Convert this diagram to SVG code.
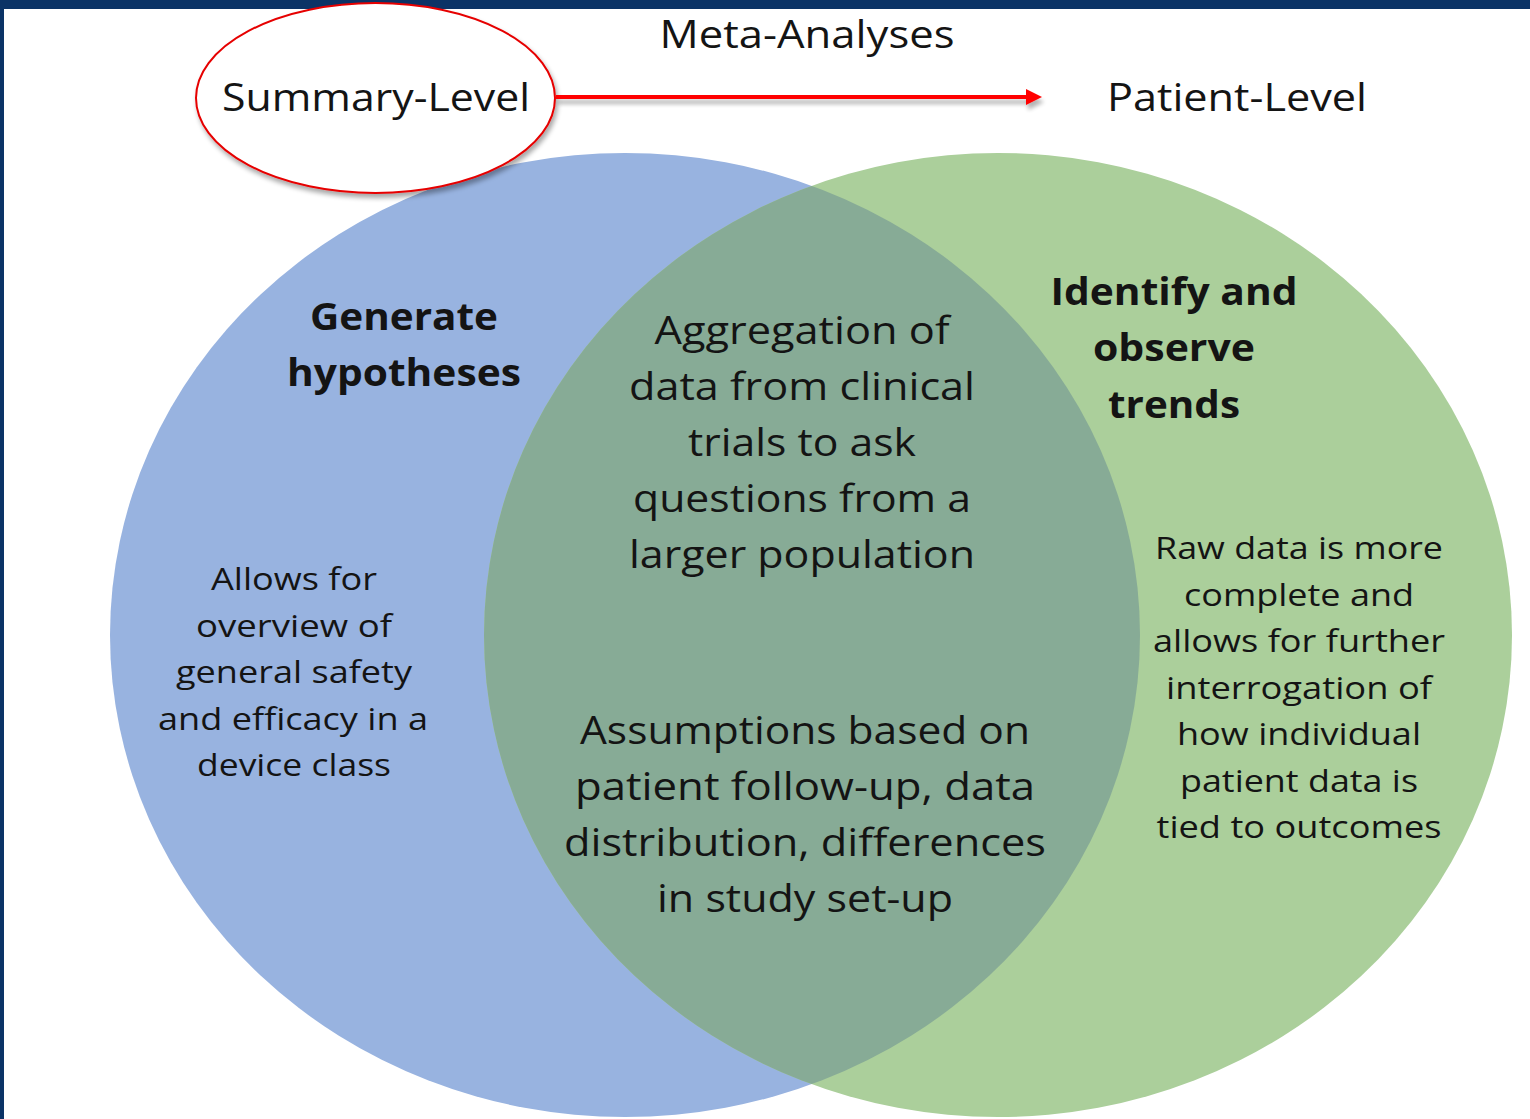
<svg xmlns="http://www.w3.org/2000/svg" width="1530" height="1119" viewBox="0 0 1530 1119">
  <defs>
    <style>
      .t { font-family: "Open Sans", Lato, sans-serif; fill: #141414; text-anchor: middle; }
      .b { font-weight: bold; }
      .lg { font-size: 38px; }
      .md { font-size: 31px; }
      .hd { font-size: 37px; }
    </style>
    <clipPath id="greenClip">
      <ellipse cx="998" cy="635" rx="514" ry="482"/>
    </clipPath>
    <filter id="shadow" x="-10%" y="-10%" width="130%" height="140%">
      <feGaussianBlur in="SourceAlpha" stdDeviation="2.5"/>
      <feOffset dx="2" dy="4" result="off"/>
      <feComponentTransfer><feFuncA type="linear" slope="0.35"/></feComponentTransfer>
      <feMerge><feMergeNode/><feMergeNode in="SourceGraphic"/></feMerge>
    </filter>
    <filter id="arrowShadow" filterUnits="userSpaceOnUse" x="540" y="75" width="520" height="45">
      <feGaussianBlur in="SourceAlpha" stdDeviation="2"/>
      <feOffset dx="2" dy="5" result="off"/>
      <feComponentTransfer><feFuncA type="linear" slope="0.3"/></feComponentTransfer>
      <feMerge><feMergeNode/><feMergeNode in="SourceGraphic"/></feMerge>
    </filter>
  </defs>

  <!-- page background and frame -->
  <rect x="0" y="0" width="1530" height="1119" fill="#ffffff"/>
  <rect x="0" y="0" width="1530" height="9" fill="#0b3366"/>
  <rect x="0" y="0" width="4" height="1119" fill="#0b3366"/>

  <!-- Venn sets -->
  <g id="set-summary">
    <ellipse cx="625" cy="635" rx="515" ry="482" fill="#98b3e0"/>
  </g>
  <g id="set-patient">
    <ellipse cx="998" cy="635" rx="514" ry="482" fill="#abcf9b"/>
  </g>
  <g id="set-overlap">
    <ellipse cx="625" cy="635" rx="515" ry="482" fill="#87ab96" clip-path="url(#greenClip)"/>
  </g>

  <!-- header labels -->
  <g id="meta-analyses">
    <text class="t lg" x="807" y="48" textLength="295" lengthAdjust="spacingAndGlyphs">Meta-Analyses</text>
  </g>
  <g id="summary-level">
    <ellipse cx="375.5" cy="98" rx="179.5" ry="95" fill="#ffffff" stroke="#e60000" stroke-width="2" filter="url(#shadow)"/>
    <text class="t lg" x="376" y="111" textLength="308" lengthAdjust="spacingAndGlyphs">Summary-Level</text>
  </g>
  <g id="patient-level">
    <text class="t lg" x="1237" y="111" textLength="260" lengthAdjust="spacingAndGlyphs">Patient-Level</text>
  </g>

  <!-- connectors -->
  <g id="connectors" filter="url(#arrowShadow)">
    <line x1="556" y1="97" x2="1028" y2="97" stroke="#ff0000" stroke-width="4"/>
    <path d="M1026,89 L1042,97 L1026,105 Z" fill="#ff0000"/>
  </g>

  <!-- set captions -->
  <g id="generate-hypotheses">
    <text class="t b hd" x="404" y="330" textLength="188" lengthAdjust="spacingAndGlyphs">Generate</text>
    <text class="t b hd" x="404" y="386" textLength="234" lengthAdjust="spacingAndGlyphs">hypotheses</text>
  </g>
  <g id="identify-trends">
    <text class="t b hd" x="1174" y="305" textLength="247" lengthAdjust="spacingAndGlyphs">Identify and</text>
    <text class="t b hd" x="1174" y="361" textLength="162" lengthAdjust="spacingAndGlyphs">observe</text>
    <text class="t b hd" x="1174" y="418" textLength="132" lengthAdjust="spacingAndGlyphs">trends</text>
  </g>

  <g id="summary-detail">
    <text class="t md" x="294" y="590" textLength="166" lengthAdjust="spacingAndGlyphs">Allows for</text>
    <text class="t md" x="294" y="637" textLength="196" lengthAdjust="spacingAndGlyphs">overview of</text>
    <text class="t md" x="294" y="683" textLength="236" lengthAdjust="spacingAndGlyphs">general safety</text>
    <text class="t md" x="293" y="730" textLength="270" lengthAdjust="spacingAndGlyphs">and efficacy in a</text>
    <text class="t md" x="294" y="776" textLength="194" lengthAdjust="spacingAndGlyphs">device class</text>
  </g>

  <g id="patient-detail">
    <text class="t md" x="1299" y="559" textLength="288" lengthAdjust="spacingAndGlyphs">Raw data is more</text>
    <text class="t md" x="1299" y="606" textLength="230" lengthAdjust="spacingAndGlyphs">complete and</text>
    <text class="t md" x="1299" y="652" textLength="292" lengthAdjust="spacingAndGlyphs">allows for further</text>
    <text class="t md" x="1299" y="699" textLength="266" lengthAdjust="spacingAndGlyphs">interrogation of</text>
    <text class="t md" x="1299" y="745" textLength="244" lengthAdjust="spacingAndGlyphs">how individual</text>
    <text class="t md" x="1299" y="792" textLength="238" lengthAdjust="spacingAndGlyphs">patient data is</text>
    <text class="t md" x="1299" y="838" textLength="285" lengthAdjust="spacingAndGlyphs">tied to outcomes</text>
  </g>

  <g id="overlap-aggregation">
    <text class="t lg" x="802" y="344" textLength="295" lengthAdjust="spacingAndGlyphs">Aggregation of</text>
    <text class="t lg" x="802" y="400" textLength="346" lengthAdjust="spacingAndGlyphs">data from clinical</text>
    <text class="t lg" x="802" y="456" textLength="228" lengthAdjust="spacingAndGlyphs">trials to ask</text>
    <text class="t lg" x="802" y="512" textLength="338" lengthAdjust="spacingAndGlyphs">questions from a</text>
    <text class="t lg" x="802" y="568" textLength="346" lengthAdjust="spacingAndGlyphs">larger population</text>
  </g>

  <g id="overlap-assumptions">
    <text class="t lg" x="805" y="744" textLength="450" lengthAdjust="spacingAndGlyphs">Assumptions based on</text>
    <text class="t lg" x="805" y="800" textLength="460" lengthAdjust="spacingAndGlyphs">patient follow-up, data</text>
    <text class="t lg" x="805" y="856" textLength="482" lengthAdjust="spacingAndGlyphs">distribution, differences</text>
    <text class="t lg" x="805" y="912" textLength="296" lengthAdjust="spacingAndGlyphs">in study set-up</text>
  </g>
</svg>
